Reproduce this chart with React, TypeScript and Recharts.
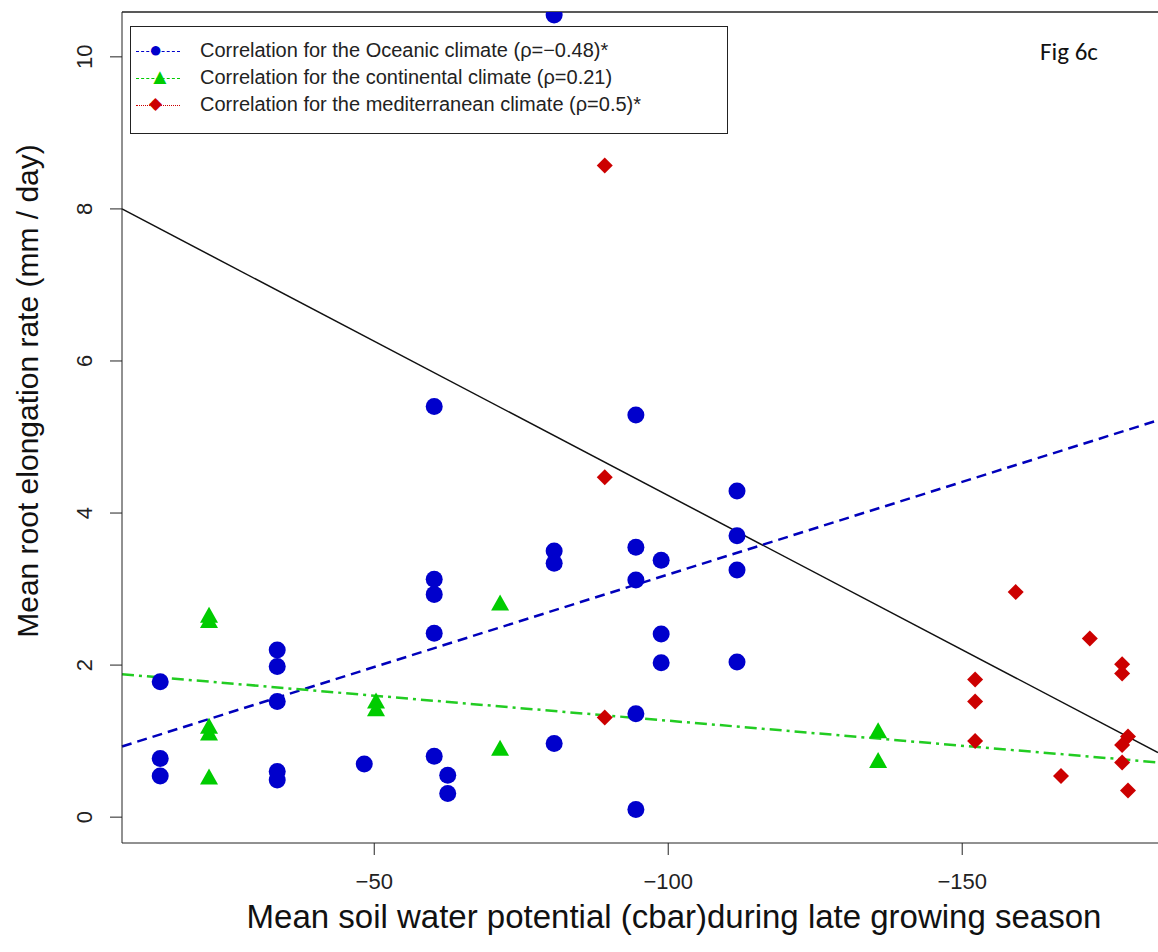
import { ComposedChart, Scatter, XAxis, YAxis, ReferenceLine } from 'recharts';

const oceanic = [
  [-13.6, 1.78], [-13.6, 0.77], [-13.6, 0.54],
  [-33.5, 2.2], [-33.5, 1.98], [-33.5, 1.52], [-33.5, 0.6], [-33.5, 0.49],
  [-48.3, 0.7],
  [-60.2, 5.4], [-60.2, 3.13], [-60.2, 2.93], [-60.2, 2.42], [-60.2, 0.8],
  [-62.5, 0.55], [-62.5, 0.31],
  [-80.6, 10.55], [-80.6, 3.5], [-80.6, 3.34], [-80.6, 0.97],
  [-94.5, 5.29], [-94.5, 3.55], [-94.5, 3.12], [-94.5, 1.36], [-94.5, 0.1],
  [-98.8, 3.38], [-98.8, 2.41], [-98.8, 2.03],
  [-111.7, 4.29], [-111.7, 3.7], [-111.7, 3.25], [-111.7, 2.04],
].map(([x, y]) => ({ x, y }));

const continental = [
  [-21.9, 2.65], [-21.9, 2.58], [-21.9, 1.19], [-21.9, 1.1], [-21.9, 0.52],
  [-50.3, 1.52], [-50.3, 1.42],
  [-71.4, 2.81], [-71.4, 0.9],
  [-135.7, 1.13], [-135.7, 0.74],
].map(([x, y]) => ({ x, y }));

const mediterranean = [
  [-89.2, 8.57], [-89.2, 4.47], [-89.2, 1.31],
  [-152.2, 1.81], [-152.2, 1.52], [-152.2, 1.0],
  [-159.1, 2.96], [-166.8, 0.54], [-171.7, 2.35],
  [-177.2, 2.01], [-177.2, 1.89], [-177.2, 0.95], [-177.2, 0.72],
  [-178.2, 1.06], [-178.2, 0.35],
].map(([x, y]) => ({ x, y }));

const xDomain = [-183.3, -7.1];
const yDomain = [-0.34, 10.59];
const xTicks = [-50, -100, -150];
const yTicks = [0, 2, 4, 6, 8, 10];

const blackFit = [{ x: -7.1, y: 8.0 }, { x: -183.3, y: 0.85 }];
const blueFit = [{ x: -7.1, y: 0.93 }, { x: -183.3, y: 5.22 }];
const greenFit = [{ x: -7.1, y: 1.88 }, { x: -183.3, y: 0.72 }];

const font = '"Liberation Sans", Arial, sans-serif';

const Diamond = (p: any) => (
  <polygon
    points={`${p.cx},${p.cy - 8} ${p.cx + 8},${p.cy} ${p.cx},${p.cy + 8} ${p.cx - 8},${p.cy}`}
    fill="#cc0000"
  />
);
const Tri = (p: any) => (
  <polygon
    points={`${p.cx},${p.cy - 9} ${p.cx + 9},${p.cy + 7} ${p.cx - 9},${p.cy + 7}`}
    fill="#00cc00"
  />
);
const Dot = (p: any) => <circle cx={p.cx} cy={p.cy} r={8.5} fill="#0000cc" />;

const YTick = (p: any) => (
  <g transform={`translate(${p.x - 24},${p.y}) rotate(-90)`}>
    <text textAnchor="middle" x={0} y={8} fontSize={22} fontFamily={font} fill="#222">
      {p.payload.value}
    </text>
  </g>
);

const XTick = (p: any) => (
  <text x={p.x} y={p.y + 32} textAnchor="middle" fontSize={22} fontFamily={font} fill="#222">
    {String(p.payload.value).replace('-', '\u2212')}
  </text>
);

export default function App() {
  return (
    <div style={{ position: 'absolute', left: 0, top: 0, width: 1158, height: 952, overflow: 'hidden', background: '#fff', fontFamily: font }}>
      <ComposedChart width={1158} height={952} margin={{ top: 12, right: 0, bottom: 49, left: 62 }}>
        <XAxis type="number" dataKey="x" domain={xDomain} reversed ticks={xTicks} allowDataOverflow
          height={60} stroke="#222" tickSize={12} tick={<XTick />} />
        <YAxis type="number" dataKey="y" domain={yDomain} ticks={yTicks} allowDataOverflow
          width={60} stroke="#222" tickSize={12} tick={<YTick />} />
        <ReferenceLine y={yDomain[1]} stroke="#222" strokeWidth={1.5} />
        <ReferenceLine segment={blackFit} stroke="#111" strokeWidth={1.5} />
        <ReferenceLine segment={blueFit} stroke="#0000bb" strokeWidth={2.5} strokeDasharray="10 6" />
        <ReferenceLine segment={greenFit} stroke="#22cc22" strokeWidth={2.5} strokeDasharray="12 5 3 5" />
        <Scatter data={oceanic} shape={<Dot />} isAnimationActive={false} />
        <Scatter data={continental} shape={<Tri />} isAnimationActive={false} />
        <Scatter data={mediterranean} shape={<Diamond />} isAnimationActive={false} />
      </ComposedChart>
      <div style={{ position: 'absolute', left: 130, top: 26, width: 596, height: 106, border: '1.5px solid #222', background: '#fff', fontSize: 20, color: '#222' }}>
        {[
          ['#0000cc', 'Correlation for the Oceanic climate (\u03c1=\u22120.48)*', 'dashed', '●'],
          ['#00cc00', 'Correlation for the continental climate (\u03c1=0.21)', 'dashed', '▲'],
          ['#cc0000', 'Correlation for the mediterranean climate (\u03c1=0.5)*', 'dotted', '◆'],
        ].map(([c, t, s, m], i) => (
          <div key={i} style={{ position: 'absolute', left: 0, top: 10 + i * 27, height: 27, display: 'flex', alignItems: 'center' }}>
            <div style={{ position: 'relative', width: 44, height: 20, marginLeft: 5 }}>
              <div style={{ borderTop: `1.5px ${s} ${c}`, width: 44, position: 'absolute', top: 10 }} />
              <span style={{ position: 'absolute', left: 13, top: -2, color: c, fontSize: i === 2 ? 17 : 22, lineHeight: '22px' }}>{m}</span>
            </div>
            <span style={{ marginLeft: 20 }}>{t}</span>
          </div>
        ))}
      </div>
      <div style={{ position: 'absolute', left: 1040, top: 36, fontSize: 25, fontFamily: 'Carlito, Calibri, "Open Sans", sans-serif', color: '#111' }}>Fig 6c</div>
      <div style={{ position: 'absolute', left: 28, top: 391, transform: 'translate(-50%,-50%) rotate(-90deg)', whiteSpace: 'nowrap', fontSize: 30, color: '#111' }}>
        Mean root elongation rate (mm / day)
      </div>
      <div style={{ position: 'absolute', left: 674, top: 898, transform: 'translateX(-50%)', whiteSpace: 'nowrap', fontSize: 33, color: '#111' }}>
        Mean soil water potential (cbar)during late growing season
      </div>
    </div>
  );
}
